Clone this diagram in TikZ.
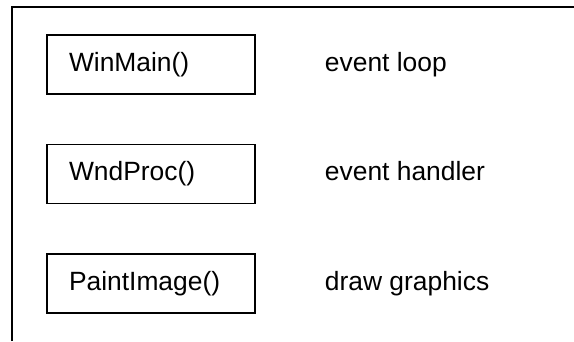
\documentclass[tikz,border=0pt]{standalone}
\usepackage{fontspec}
\setmainfont{Liberation Sans}
\usetikzlibrary{positioning}
\tikzset{
	funcbox/.style={draw, line width=1.5pt, minimum width=208pt, minimum height=59pt,
		text width=164pt, inner xsep=22pt, align=left, font=\fontsize{26.4pt}{30pt}\selectfont}
}
\tikzset{
	notetext/.style={anchor=base west, inner sep=0pt, font=\fontsize{26.4pt}{30pt}\selectfont}
}
\begin{document}
\begin{tikzpicture}[x=1pt, y=-1pt]
      \useasboundingbox (0,0) rectangle (574,341);
      % frame
      \draw[line width=1.5pt] (12,341) -- (12,7) -- (574,7);
      \node[funcbox] (winmain) at (151,64.5) {WinMain()};
      \node[funcbox, below=49pt of winmain] (wndproc) {WndProc()};
      \node[funcbox, below=49pt of wndproc] (paintimage) {PaintImage()};
      \node[notetext] (loopnote) at ([xshift=69pt]winmain.base east) {event loop};
      \node[notetext] (handlernote) at ([xshift=69pt]wndproc.base east) {event handler};
      \node[notetext] (drawnote) at ([xshift=69pt]paintimage.base east) {draw graphics};
    \end{tikzpicture}
\end{document}
